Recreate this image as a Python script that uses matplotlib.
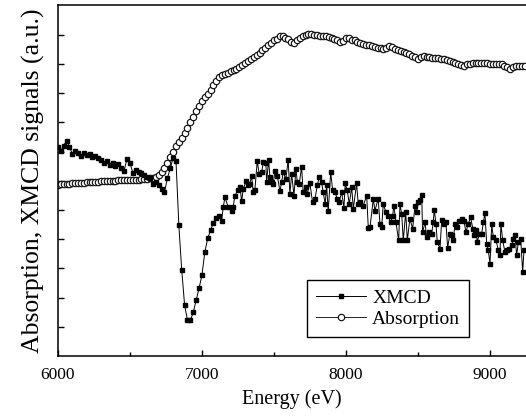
import numpy as np
import matplotlib.pyplot as plt

plt.rcParams['font.family'] = ['Liberation Serif', 'DejaVu Serif']

# absorption, read every 20 eV
abs_energy = np.arange(6000, 9241, 20)
abs_signal = [
    5.87, 5.88, 5.88, 5.89, 5.90, 5.91, 5.92, 5.92, 5.93, 5.94,
    5.95, 5.96, 5.96, 5.97, 5.97, 5.98, 5.98, 5.99, 5.99, 6.00,
    6.00, 6.01, 6.01, 6.01, 6.02, 6.02, 6.03, 6.04, 6.04, 6.05,
    6.06, 6.07, 6.08, 6.10, 6.14, 6.20, 6.30, 6.42, 6.62, 6.80,
    6.98, 7.18, 7.32, 7.45, 7.62, 7.80, 8.00, 8.18, 8.38, 8.56,
    8.72, 8.86, 8.98, 9.12, 9.26, 9.40, 9.55, 9.62, 9.66, 9.70,
    9.74, 9.78, 9.84, 9.88, 9.95, 10.02, 10.10, 10.18, 10.25, 10.32,
    10.38, 10.46, 10.55, 10.63, 10.72, 10.80, 10.86, 10.96, 10.95, 10.88,
    10.85, 10.76, 10.72, 10.80, 10.89, 10.95, 10.99, 11.02, 11.02, 11.00,
    10.99, 10.97, 10.96, 10.94, 10.92, 10.90, 10.86, 10.80, 10.74, 10.78,
    10.88, 10.87, 10.83, 10.80, 10.76, 10.72, 10.68, 10.65, 10.63, 10.60,
    10.58, 10.56, 10.54, 10.52, 10.55, 10.60, 10.58, 10.52, 10.47, 10.44,
    10.40, 10.37, 10.34, 10.28, 10.22, 10.17, 10.22, 10.26, 10.25, 10.23,
    10.21, 10.20, 10.19, 10.17, 10.15, 10.12, 10.10, 10.07, 10.04, 10.00,
    9.96, 9.94, 9.98, 10.01, 10.02, 10.03, 10.03, 10.04, 10.03, 10.02,
    10.01, 10.00, 10.00, 10.00, 9.98, 9.94, 9.88, 9.83, 9.88, 9.93,
    9.93, 9.92, 9.93,
]

# xmcd: pre-edge + dip every 20 eV, then the noisy tail point by point
xmcd_energy = list(range(6000, 7121, 20)) + [
    7137, 7148, 7160, 7183, 7206, 7217, 7229, 7252, 7264, 7276,
    7287, 7306, 7322, 7333, 7345, 7356, 7368, 7384, 7398, 7415,
    7426, 7444, 7449, 7463, 7472, 7484, 7495, 7507, 7523, 7542,
    7553, 7565, 7583, 7599, 7611, 7623, 7639, 7653, 7662, 7676,
    7692, 7703, 7722, 7731, 7750, 7768, 7785, 7801, 7815, 7831,
    7842, 7856, 7866, 7877, 7894, 7908, 7924, 7940, 7953, 7970,
    7986, 7995, 8009, 8023, 8040, 8051, 8074, 8085, 8097, 8120,
    8144, 8155, 8167, 8190, 8201, 8224, 8236, 8248, 8259, 8278,
    8294, 8310, 8324, 8333, 8347, 8366, 8375, 8387, 8398, 8415,
    8426, 8444, 8463, 8479, 8491, 8502, 8514, 8526, 8532, 8549,
    8560, 8578, 8595, 8606, 8613, 8625, 8634, 8653, 8665, 8681,
    8694, 8706, 8722, 8734, 8745, 8757, 8773, 8787, 8803, 8819,
    8833, 8849, 8866, 8880, 8889, 8903, 8912, 8926, 8942, 8954,
    8965, 8977, 8988, 9000, 9012, 9023, 9042, 9058, 9069, 9076,
    9088, 9104, 9120, 9134, 9151, 9162, 9174, 9185, 9197, 9213,
    9227, 9236,
]
xmcd_signal = [
    7.17, 7.03, 7.20, 7.37, 7.17, 6.93, 7.03, 6.96, 6.86, 6.96,
    6.89, 6.93, 6.83, 6.86, 6.79, 6.72, 6.62, 6.69, 6.55, 6.62,
    6.52, 6.59, 6.45, 6.35, 6.76, 6.62, 6.28, 6.38, 6.31, 6.25,
    6.21, 6.14, 6.08, 5.90, 5.97, 5.87, 5.73, 5.60, 6.08, 6.42,
    6.79, 6.69, 4.47, 2.94, 1.74, 1.23, 1.23, 1.50, 1.91, 2.32,
    2.76, 3.55, 4.03, 4.30, 4.57, 4.71, 4.81,
    4.64, 5.10, 5.43, 5.10, 4.96, 5.10, 5.49, 5.70, 5.80, 5.30,
    5.72, 5.98, 5.84, 5.89, 6.18, 5.61, 5.70, 6.67, 6.24, 6.29,
    6.63, 6.60, 5.95, 6.71, 6.12, 5.95, 5.89, 6.35, 6.18, 5.64,
    5.95, 6.29, 6.06, 6.72, 5.55, 6.24, 5.49, 6.41, 5.95, 5.89,
    6.48, 5.61, 5.78, 5.55, 5.91, 5.27, 5.38, 5.84, 6.14, 5.95,
    5.61, 5.21, 5.84, 4.96, 6.29, 5.67, 5.61, 5.38, 5.27, 5.61,
    5.08, 5.91, 5.67, 5.21, 5.78, 5.04, 5.91, 5.21, 5.27, 5.15,
    5.49, 4.39, 4.41, 5.38, 4.98, 5.38, 4.53, 4.41, 5.21, 4.92,
    4.81, 4.58, 4.81, 5.15, 4.58, 3.96, 5.19, 4.87, 3.96, 4.92,
    3.96, 4.70, 4.36, 5.12, 4.92, 5.27, 5.35, 5.53, 4.24, 4.58,
    4.07, 4.24, 4.19, 4.58, 5.01, 4.53, 3.90, 3.68, 4.67, 4.53,
    4.58, 3.71, 4.19, 4.13, 3.96, 4.53, 4.41, 4.64, 4.70, 4.64,
    4.24, 4.53, 4.75, 4.36, 4.13, 4.30, 3.90, 4.19, 4.19, 4.58,
    4.89, 3.85, 3.62, 3.16, 4.51, 4.07, 3.96, 3.62, 3.45, 4.53,
    3.96, 3.56, 3.62, 3.68, 3.79, 4.02, 4.13, 3.45, 3.90, 4.02,
    2.88, 3.62,
]

fig = plt.figure(figsize=(5.26, 4.17), dpi=100)
ax = fig.add_axes([0.110, 0.146, 0.89, 0.841])

l_abs, = ax.plot(abs_energy, abs_signal, '-o', color='k', lw=0.6,
                 ms=4.6, mfc='white', mec='#111111', mew=0.85, label='Absorption')
l_xmcd, = ax.plot(xmcd_energy, xmcd_signal, '-s', color='k', lw=0.7,
                  ms=3.1, mfc='k', mec='k', label='XMCD')

ax.set_xlim(6000, 9250)
ax.set_ylim(0, 12)
ax.set_xticks([6000, 7000, 8000, 9000])
ax.set_xticks([6500, 7500, 8500], minor=True)
ax.set_yticks(range(1, 12))
ax.set_yticklabels([])
ax.tick_params(direction='in', length=4, width=1, labelsize=12.5)
ax.tick_params(which='minor', direction='in', length=3, width=1)
ax.tick_params(axis='x', pad=8)
for s in ['left', 'bottom', 'top']:
    ax.spines[s].set_linewidth(1.1)
ax.spines['right'].set_visible(False)

ax.set_xlabel('Energy (eV)', fontsize=14.5, labelpad=4)
ax.set_ylabel('Absorption, XMCD signals (a.u.)', fontsize=18.5, labelpad=6)

leg = ax.legend([l_xmcd, l_abs], ['XMCD', 'Absorption'], fontsize=14,
                loc='lower right', bbox_to_anchor=(469 / 526, 80 / 417),
                bbox_transform=fig.transFigure, fancybox=False, framealpha=1,
                edgecolor='k', handlelength=2.6, handletextpad=0.3,
                borderpad=0.45, labelspacing=0.2, borderaxespad=0)
leg.get_frame().set_linewidth(1.0)

fig.savefig('out.png', dpi=100)
